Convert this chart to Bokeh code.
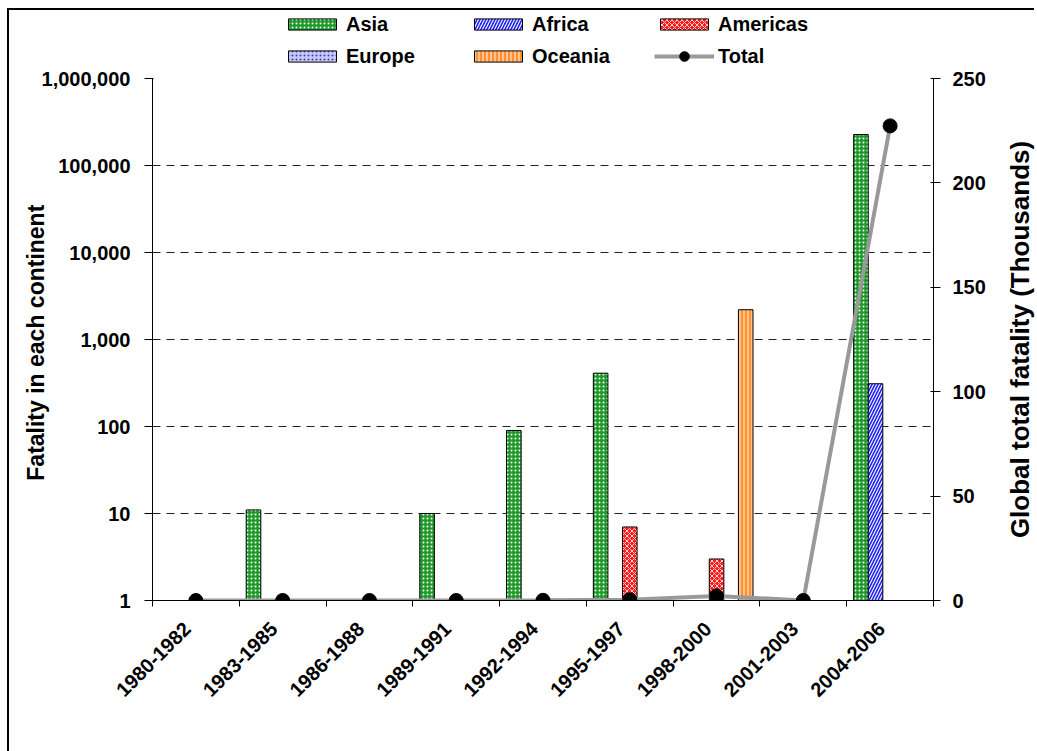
from math import pi

from bokeh.embed import file_html
from bokeh.layouts import column, row
from bokeh.models import (ColumnDataSource, CustomJSTickFormatter, FixedTicker,
                          Legend, LegendItem, LinearAxis, LinearScale,
                          NumeralTickFormatter, Range1d)
from bokeh.plotting import figure
from bokeh.resources import INLINE

# Fatalities per three-year period, by continent
periods = ["1980-1982", "1983-1985", "1986-1988", "1989-1991", "1992-1994",
           "1995-1997", "1998-2000", "2001-2003", "2004-2006"]
asia = [0, 11, 0, 10, 90, 410, 0, 0, 227000]
africa = [0, 0, 0, 0, 0, 0, 0, 0, 310]
americas = [0, 0, 0, 0, 0, 7, 3, 0, 0]
europe = [0, 0, 0, 0, 0, 0, 0, 0, 0]
oceania = [0, 0, 0, 0, 0, 0, 2200, 0, 0]
# Global total, in thousands
total_thousands = [0, 0.011, 0, 0.010, 0.090, 0.417, 2.203, 0, 227.31]

left_ticks = [1, 10, 100, 1000, 10000, 100000, 1000000]
right_ticks = [0, 50, 100, 150, 200, 250]

FONT = "Liberation Sans"
NAN = float("nan")
n = len(periods)
centers = [i + 0.5 for i in range(n)]
label_pos = [i + 0.4 for i in range(n)]
pad = 0.08
bw = (1 - 2 * pad) / 5

p = figure(width=995, height=683, x_range=Range1d(0, n),
           y_range=Range1d(1, 1e6), y_axis_type="log",
           output_backend="svg", toolbar_location=None,
           min_border_left=143, min_border_right=71,
           min_border_top=10, min_border_bottom=151)
p.outline_line_color = None
p.background_fill_color = "white"
p.border_fill_color = "white"

# Strip on top that only carries the legend
lg = figure(width=995, height=58, x_range=Range1d(0, 1), y_range=Range1d(0, 1),
            output_backend="svg", toolbar_location=None, min_border=0)
lg.axis.visible = False
lg.grid.visible = False
lg.outline_line_color = None

series = [
    ("Asia", asia, "#1f9a2a", "dot", "white", 4, 1.2),
    ("Africa", africa, "#2222ff", "right_diagonal_line", "white", 6, 1.1),
    ("Americas", americas, "#ff1a1a", "diagonal_cross", "white", 5, 0.8),
    ("Europe", europe, "#c9c9f2", "dot", "#3a3ac8", 4, 1.2),
    ("Oceania", oceania, "#ff9030", "vertical_line", "white", 4, 0.9),
]

items = []
for k, (name, vals, fill, hatch, hcolor, hscale, hweight) in enumerate(series):
    xs = [i + pad + bw * (k + 0.5) for i in range(n)]
    # zero counts cannot sit on a log axis: leave those bars undrawn
    tops = [v if v > 0 else NAN for v in vals]
    src = ColumnDataSource(dict(x=xs, top=tops))
    style = dict(fill_color=fill, line_color="black", line_width=1,
                 hatch_pattern=hatch, hatch_color=hcolor,
                 hatch_scale=hscale, hatch_weight=hweight)
    p.vbar(x="x", top="top", bottom=1, width=bw, source=src, **style)
    # legend key: a renderer with one empty (NaN) row, so only the key shows
    key = lg.vbar(x=[NAN], top=[NAN], bottom=0, width=0.1, **style)
    items.append(LegendItem(label=name, renderers=[key]))

# Global total on the secondary axis
p.extra_y_ranges = {"total": Range1d(0, 250)}
p.extra_y_scales = {"total": LinearScale()}
line_style = dict(line_color="#999999", line_width=4)
dot_style = dict(marker="circle", size=14, fill_color="black", line_color="black")
p.line(centers, total_thousands, y_range_name="total", **line_style)
p.scatter(centers, total_thousands, y_range_name="total", **dot_style)
key_line = lg.line(x=[NAN], y=[NAN], **line_style)
key_dot = lg.scatter(x=[NAN], y=[NAN], **dot_style)

# Left log axis
ya = p.yaxis[0]
ya.ticker = FixedTicker(ticks=left_ticks)
ya.formatter = NumeralTickFormatter(format="0,0")
ya.minor_tick_line_color = None
ya.major_tick_out = 8
ya.major_tick_in = 1
ya.axis_line_color = "black"
ya.major_label_standoff = 14
ya.major_label_text_font = FONT
ya.major_label_text_font_style = "bold"
ya.major_label_text_font_size = "20px"
ya.major_label_text_color = "black"
ya.axis_label = "Fatality  in each continent"
ya.axis_label_standoff = -10
ya.axis_label_text_font = FONT
ya.axis_label_text_font_style = "bold"
ya.axis_label_text_font_size = "23px"
ya.axis_label_text_color = "black"

# Right linear axis (its title is set in the narrow strip to the right)
ra = LinearAxis(y_range_name="total", ticker=FixedTicker(ticks=right_ticks))
ra.minor_tick_line_color = None
ra.major_tick_out = 7
ra.major_tick_in = 3
ra.major_label_standoff = 12
ra.major_label_text_font = FONT
ra.major_label_text_font_style = "bold"
ra.major_label_text_font_size = "20px"
ra.major_label_text_color = "black"
p.add_layout(ra, "right")

# Category axis: labels near the centers, tick marks at the boundaries
xa = p.xaxis[0]
xa.ticker = FixedTicker(ticks=label_pos, minor_ticks=list(range(n + 1)))
xa.formatter = CustomJSTickFormatter(args=dict(labels=periods),
                                     code="return labels[Math.floor(tick)] || ''")
xa.major_tick_in = 0
xa.major_tick_out = 0
xa.minor_tick_in = 0
xa.minor_tick_out = 6
xa.minor_tick_line_color = "black"
xa.major_label_orientation = pi / 4
xa.major_label_standoff = 19
xa.major_label_text_font = FONT
xa.major_label_text_font_style = "bold"
xa.major_label_text_font_size = "20px"
xa.major_label_text_color = "black"

p.xgrid.visible = False
p.ygrid.ticker = FixedTicker(ticks=left_ticks[1:-1])
p.ygrid.grid_line_color = "#222222"
p.ygrid.grid_line_dash = "8 6"
p.ygrid.grid_line_width = 1

legend_style = dict(orientation="horizontal", glyph_width=60,
                    label_standoff=4, label_width=114, label_height=24,
                    spacing=8, padding=0, margin=0,
                    border_line_color=None, background_fill_alpha=0,
                    label_text_font=FONT, label_text_font_style="bold",
                    label_text_font_size="20px", label_text_color="black")
legend = Legend(items=items, ncols=3, location=(130, 0), glyph_height=14,
                **legend_style)
lg.add_layout(legend, "center")
legend_total = Legend(items=[LegendItem(label="Total",
                                        renderers=[key_line, key_dot])],
                      location=(502, 0), glyph_height=24, **legend_style)
lg.add_layout(legend_total, "center")

# Narrow strip carrying the secondary axis title, reading bottom to top
tf = figure(width=30, height=741, x_range=Range1d(0, 1),
            y_range=Range1d(0, 1), output_backend="svg",
            toolbar_location=None, min_border_left=29, min_border_right=0,
            min_border_top=68, min_border_bottom=151)
tf.xaxis.visible = False
tf.grid.visible = False
tf.outline_line_color = None
ta = tf.yaxis[0]
ta.ticker = FixedTicker(ticks=[])
ta.major_tick_out = 0
ta.major_tick_in = 0
ta.minor_tick_line_color = None
ta.axis_line_color = None
ta.major_label_standoff = 0
ta.axis_label = "Global total fatality (Thousands)"
ta.axis_label_standoff = 0
ta.axis_label_text_font = FONT
ta.axis_label_text_font_style = "bold"
ta.axis_label_text_font_size = "26px"
ta.axis_label_text_color = "black"

page = row(column(lg, p, spacing=0), tf, spacing=0)
page.styles = {"margin-left": "7px", "margin-top": "8px",
               "border-left": "2px solid black", "border-top": "2px solid black"}

open("out.html", "w").write(file_html(page, INLINE))
